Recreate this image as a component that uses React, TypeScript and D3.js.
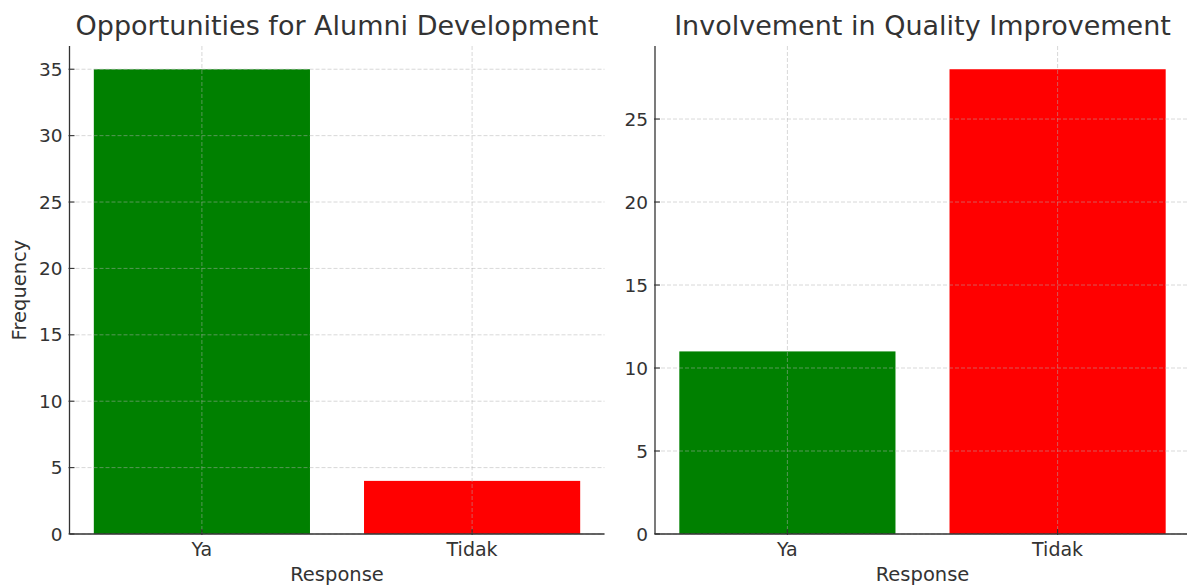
import React from "react";
import * as d3 from "d3";

const categories = ["Ya", "Tidak"];
const leftValues = [35, 4];
const rightValues = [11, 28];
const leftTicks = [0, 5, 10, 15, 20, 25, 30, 35];
const rightTicks = [0, 5, 10, 15, 20, 25];
const barColors = ["#008000", "#ff0000"];
const titles = ["Opportunities for Alumni Development", "Involvement in Quality Improvement"];

const W = 1187;
const H = 585;
const TOP = 46;
const BOTTOM = 534;
const FONT = "DejaVu Sans, Verdana, sans-serif";
const TEXT = "#333333";

type PanelProps = {
  x0: number;
  x1: number;
  values: number[];
  ticks: number[];
  title: string;
  yLabel?: string;
};

function Panel({ x0, x1, values, ticks, title, yLabel }: PanelProps) {
  const x = d3.scaleLinear().domain([-0.49, categories.length - 1 + 0.49]).range([x0, x1]);
  const ymax = (d3.max(values) as number) * 1.05;
  const y = d3.scaleLinear().domain([0, ymax]).range([BOTTOM, TOP]);
  const bw = (x(0.8) - x(0));
  const gridStyle = { stroke: "#b0b0b0", strokeOpacity: 0.55, strokeDasharray: "4,2", strokeWidth: 0.9 };
  const cx = (x0 + Math.min(x1, W + 3)) / 2;
  return (
    <g>
      {values.map((v, i) => (
        <rect key={i} x={x(i) - bw / 2} y={y(v)} width={bw} height={y(0) - y(v)} fill={barColors[i]} />
      ))}
      {ticks.map((t) => (
        <line key={"gy" + t} x1={x0} x2={x1} y1={y(t)} y2={y(t)} {...gridStyle} />
      ))}
      {categories.map((c, i) => (
        <line key={"gx" + c} x1={x(i)} x2={x(i)} y1={TOP} y2={BOTTOM} {...gridStyle} />
      ))}
      <line x1={x0} x2={x0} y1={TOP} y2={BOTTOM} stroke="#333" strokeWidth={1.3} />
      <line x1={x0} x2={x1} y1={BOTTOM} y2={BOTTOM} stroke="#333" strokeWidth={1.3} />
      {ticks.map((t) => (
        <g key={"ty" + t}>
          <line x1={x0 - 1} x2={x0 + 5} y1={y(t)} y2={y(t)} stroke="#333" strokeWidth={1.1} />
          <text x={x0 - 7} y={y(t)} textAnchor="end" dominantBaseline="central" fontSize={18.5} fill={TEXT} fontFamily={FONT}>
            {t}
          </text>
        </g>
      ))}
      {categories.map((c, i) => (
        <g key={"tx" + c}>
          <line x1={x(i)} x2={x(i)} y1={BOTTOM + 1} y2={BOTTOM - 5} stroke="#333" strokeWidth={1.1} />
          <text x={x(i)} y={556} textAnchor="middle" fontSize={19} fill={TEXT} fontFamily={FONT}>
            {c}
          </text>
        </g>
      ))}
      <text x={(x0 + x1) / 2} y={581} textAnchor="middle" fontSize={19.5} fill={TEXT} fontFamily={FONT}>
        Response
      </text>
      <text x={(x0 + x1) / 2} y={35} textAnchor="middle" fontSize={27} fill={TEXT} fontFamily={FONT}>
        {title}
      </text>
      {yLabel && (
        <text
          transform={`translate(26,${(TOP + BOTTOM) / 2}) rotate(-90)`}
          textAnchor="middle"
          fontSize={19.5}
          fill={TEXT}
          fontFamily={FONT}
        >
          {yLabel}
        </text>
      )}
    </g>
  );
}

export default function App() {
  return (
    <svg
      width={W}
      height={H}
      style={{ position: "absolute", left: 0, top: 0, background: "#fff", display: "block" }}
    >
      <rect x={0} y={0} width={W} height={H} fill="#fff" />
      <Panel x0={69.5} x1={604.5} values={leftValues} ticks={leftTicks} title={titles[0]} yLabel="Frequency" />
      <Panel x0={655} x1={1190} values={rightValues} ticks={rightTicks} title={titles[1]} />
    </svg>
  );
}
